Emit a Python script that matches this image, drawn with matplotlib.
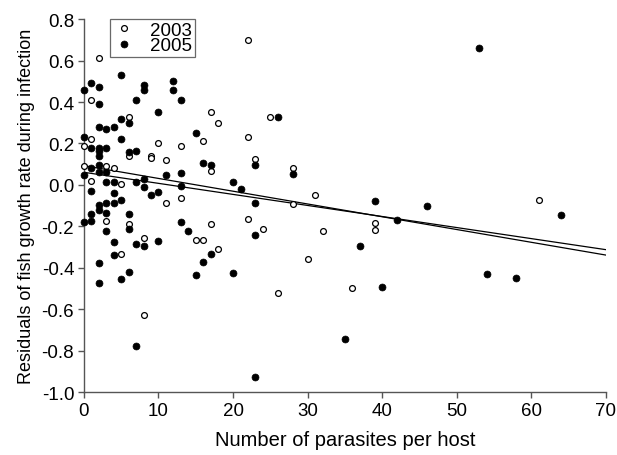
import numpy as np
import matplotlib
matplotlib.use("Agg")
import matplotlib.pyplot as plt

plt.rcParams['font.family'] = ['Liberation Sans', 'DejaVu Sans']

# 2003 sample (open circles)
x2003 = [2, 22, 1, 17, 18, 6, 22, 1, 16, 0, 10, 13, 6, 9, 9, 11, 23, 0, 3, 4,
         1, 5, 11, 13, 3, 6, 17, 22, 8, 15, 16, 18, 5, 8, 25, 28, 17, 31, 28,
         24, 32, 39, 39, 30, 26, 36, 61]
y2003 = [0.61, 0.70, 0.41, 0.35, 0.30, 0.33, 0.23, 0.22, 0.21, 0.19, 0.20, 0.19,
         0.14, 0.14, 0.13, 0.12, 0.125, 0.09, 0.09, 0.08, 0.02, 0.004, -0.087,
         -0.063, -0.172, -0.19, -0.19, -0.165, -0.255, -0.264, -0.264, -0.307,
         -0.333, -0.626, 0.33, 0.08, 0.069, -0.047, -0.094, -0.211, -0.222,
         -0.184, -0.216, -0.359, -0.521, -0.497, -0.071]

# 2005 sample (filled circles)
x2005 = [5, 1, 2, 0, 8, 8, 12, 12, 7, 13, 2, 10, 5, 6, 2, 3, 4, 15, 0, 5,
         1, 2, 2, 2, 3, 6, 7, 16, 17, 23, 1, 2, 2, 3, 0, 3, 4, 7, 8, 11,
         13, 8, 13, 1, 4, 9, 10, 5, 2, 2, 3, 4, 3, 1, 6, 0, 1, 6, 13, 3,
         14, 23, 4, 10, 7, 8, 17, 4, 16, 2, 6, 5, 15, 20, 2, 20, 21, 23, 7, 23,
         26, 28, 39, 46, 42, 37, 40, 35, 53, 64, 54, 58]
y2005 = [0.53, 0.49, 0.47, 0.46, 0.48, 0.46, 0.50, 0.46, 0.41, 0.41, 0.39, 0.35,
         0.32, 0.30, 0.28, 0.27, 0.28, 0.25, 0.23, 0.22, 0.18, 0.18, 0.165, 0.14,
         0.18, 0.16, 0.165, 0.105, 0.096, 0.095, 0.08, 0.095, 0.061, 0.061, 0.049,
         0.015, 0.015, 0.015, 0.028, 0.049, 0.056, -0.012, -0.004, -0.031, -0.038,
         -0.049, -0.033, -0.074, -0.095, -0.12, -0.086, -0.086, -0.134, -0.14,
         -0.14, -0.18, -0.175, -0.213, -0.18, -0.22, -0.224, -0.24, -0.274, -0.27,
         -0.286, -0.296, -0.332, -0.337, -0.37, -0.377, -0.421, -0.455, -0.433,
         -0.426, -0.475, 0.012, -0.02, -0.089, -0.775, -0.928, 0.33, 0.051, -0.078,
         -0.103, -0.168, -0.296, -0.492, -0.745, 0.659, -0.145, -0.428, -0.447]

# regression lines (intercept, slope)
intercepts = [0.093, 0.061]
slopes = [-0.00616, -0.00533]

yticks = [-1.0, -0.8, -0.6, -0.4, -0.2, 0.0, 0.2, 0.4, 0.6, 0.8]

fig = plt.figure(figsize=(6.17, 4.56), dpi=100)
ax = fig.add_axes([0.136, 0.1375, 0.846, 0.8185])

xl = np.array([0, 70])
for b, m in zip(intercepts, slopes):
    ax.plot(xl, b + m * xl, color='black', lw=0.9)

ax.plot(x2003, y2003, 'o', ms=4.2, mfc='white', mec='black', mew=0.9,
        ls='none', label='2003', clip_on=False, zorder=3)
ax.plot(x2005, y2005, 'o', ms=5, mfc='black', mec='black', mew=0.5,
        ls='none', label='2005', clip_on=False, zorder=3)

ax.set_xlim(0, 70)
ax.set_ylim(-1.0, 0.8)
ax.set_xticks(range(0, 71, 10))
ax.set_yticks(yticks)
ax.set_yticklabels([f'{v:.1f}' for v in yticks])

for s in ['top', 'right']:
    ax.spines[s].set_visible(False)
for s in ['left', 'bottom']:
    ax.spines[s].set_color('#555555')
    ax.spines[s].set_linewidth(1.0)
ax.tick_params(direction='out', length=4, width=1.0, color='#555555',
               labelsize=13.5, pad=3)

ax.set_xlabel('Number of parasites per host', fontsize=14.5, labelpad=8)
ax.set_ylabel('Residuals of fish growth rate during infection', fontsize=13,
              labelpad=5)

leg = ax.legend(loc='upper left', bbox_to_anchor=(0.05, 1.0), fontsize=13.5,
                frameon=True, fancybox=False, edgecolor='#444444',
                handletextpad=0.8, borderpad=0.15, labelspacing=-0.1,
                handlelength=1.2, borderaxespad=0.0)
leg.get_frame().set_linewidth(0.9)

fig.savefig('out.png', dpi=100)
